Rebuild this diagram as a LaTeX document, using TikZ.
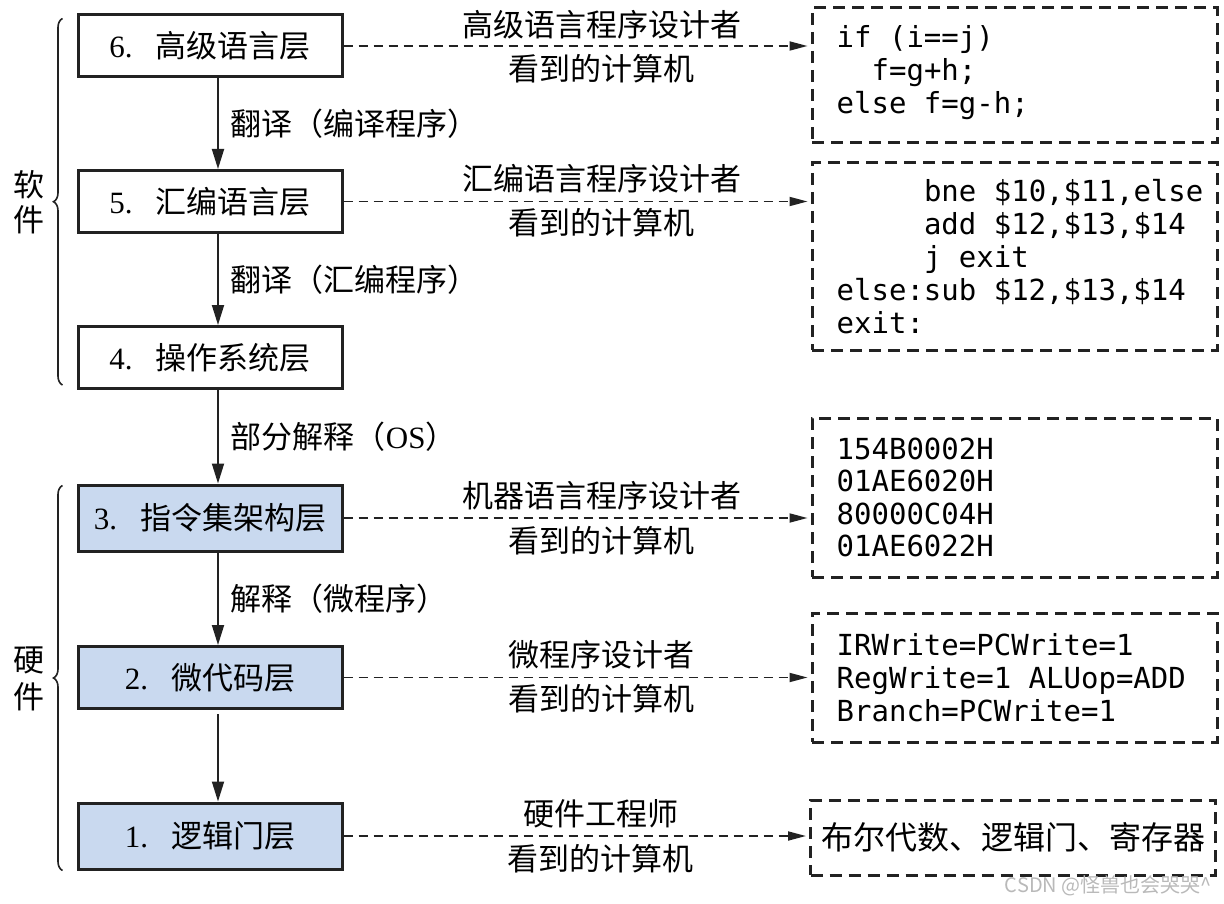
\documentclass[tikz,border=0pt]{standalone}
\usepackage{fontspec}
\setmainfont{Liberation Serif}
\newfontfamily\cjk{Noto Sans CJK SC}
\newfontfamily\codefont{DejaVu Sans Mono}
\usetikzlibrary{arrows.meta,decorations.pathreplacing,calc}
\definecolor{hwblue}{HTML}{C9D9EF}
\definecolor{ink}{HTML}{222222}
\begin{document}
\begin{tikzpicture}[x=1pt,y=-1pt,
  layer/.style={draw=ink, line width=3pt, minimum width=264pt, minimum height=62pt, inner sep=0pt, font=\fontsize{31}{36}\selectfont},
  hw/.style={layer, fill=hwblue},
  codebox/.style={draw=ink, line width=3pt, dash pattern=on 12pt off 7pt, minimum width=405pt, inner sep=0pt},
  code/.style={font=\codefont\fontsize{29}{33}\selectfont, align=left, inner sep=0pt, anchor=west},
  varrow/.style={draw=ink, line width=1.8pt, -{Triangle[length=20pt,width=12pt]}},
  darrow/.style={draw=ink, line width=1.8pt, dash pattern=on 9pt off 6pt, shorten >=3pt, -{Triangle[length=18pt,width=9pt]}},
  lbl/.style={font=\cjk\fontsize{31}{36}\selectfont, inner sep=0pt},
  bracestyle/.style={draw=ink, line width=1.6pt, decorate, decoration={brace, amplitude=9pt}},
]
\useasboundingbox (0,0) rectangle (1224,904);

% left layer boxes
\node[layer] (b6) at (210,46) {6.\hspace{0.75em}{\cjk 高级语言层}};
\node[layer] (b5) at (210,201.5) {5.\hspace{0.75em}{\cjk 汇编语言层}};
\node[layer] (b4) at (210,357.5) {4.\hspace{0.75em}{\cjk 操作系统层}};
\node[hw, minimum height=66pt] (b3) at (210,518) {3.\hspace{0.75em}{\cjk 指令集架构层}};
\node[hw] (b2) at (210,677.5) {2.\hspace{0.75em}{\cjk 微代码层}};
\node[hw, minimum height=66pt] (b1) at (210,836) {1.\hspace{0.75em}{\cjk 逻辑门层}};

% vertical arrows
\draw[varrow] ([xshift=8pt]b6.south) -- ([xshift=8pt]b5.north)
  node[lbl, midway, anchor=west, xshift=12pt] {翻译（编译程序）};
\draw[varrow] ([xshift=8pt]b5.south) -- ([xshift=8pt]b4.north)
  node[lbl, midway, anchor=west, xshift=12pt] {翻译（汇编程序）};
\draw[varrow] ([xshift=8pt]b4.south) -- ([xshift=8pt]b3.north)
  node[lbl, midway, anchor=west, xshift=12pt] {部分解释（{\rmfamily OS}）};
\draw[varrow] ([xshift=8pt]b3.south) -- ([xshift=8pt]b2.north)
  node[lbl, midway, anchor=west, xshift=12pt] {解释（微程序）};
\draw[varrow] ([xshift=8pt,yshift=-4pt]b2.south) -- ([xshift=8pt]b1.north);

% right dashed boxes
\node[codebox, minimum height=135pt] (rA) at (1014.5,75.5) {};
\node[code] (cA) at ([xshift=26pt,yshift=3pt]rA.west) {if (i==j)\\\phantom{if}f=g+h;\\else f=g-h;};
\node[codebox, minimum height=187pt] (rB) at (1014.5,256.5) {};
\node[code] (cB) at ([xshift=26pt]rB.west) {\phantom{else:}bne \$10,\$11,else\\\phantom{else:}add \$12,\$13,\$14\\\phantom{else:}j exit\\else:sub \$12,\$13,\$14\\exit:};
\node[codebox, minimum height=159pt] (rC) at (1014.5,497.5) {};
\node[code, font=\codefont\fontsize{29}{32.5}\selectfont] (cC) at ([xshift=26pt]rC.west) {154B0002H\\01AE6020H\\80000C04H\\01AE6022H};
\node[codebox, minimum height=129pt] (rD) at (1014.5,677.5) {};
\node[code] (cD) at ([xshift=26pt]rD.west) {IRWrite=PCWrite=1\\RegWrite=1 ALUop=ADD\\Branch=PCWrite=1};
\node[codebox, minimum height=75pt, font=\cjk\fontsize{32}{36}\selectfont] (rE) at (1013,837.5) {布尔代数、逻辑门、寄存器};

% dashed arrows
\draw[darrow] (b6.east) -- (b6.east -| rA.west)
  node[lbl, pos=0.553, yshift=21pt] {高级语言程序设计者}
  node[lbl, pos=0.553, yshift=-23pt] {看到的计算机};
\draw[darrow] (b5.east) -- (b5.east -| rB.west)
  node[lbl, pos=0.553, yshift=23pt] {汇编语言程序设计者}
  node[lbl, pos=0.553, yshift=-21pt] {看到的计算机};
\draw[darrow] (b3.east) -- (b3.east -| rC.west)
  node[lbl, pos=0.553, yshift=22pt] {机器语言程序设计者}
  node[lbl, pos=0.553, yshift=-23pt] {看到的计算机};
\draw[darrow] (b2.east) -- (b2.east -| rD.west)
  node[lbl, pos=0.553, yshift=23pt] {微程序设计者}
  node[lbl, pos=0.553, yshift=-21pt] {看到的计算机};
\draw[darrow] (b1.east) -- (b1.east -| rE.west)
  node[lbl, pos=0.553, yshift=22pt] {硬件工程师}
  node[lbl, pos=0.553, yshift=-23pt] {看到的计算机};

% braces
\coordinate (swtop) at ([xshift=-14pt,yshift=-5pt]b6.north west);
\coordinate (swbot) at ([xshift=-14pt,yshift=5pt]b4.south west);
\draw[bracestyle] (swbot) -- (swtop);
\coordinate (hwtop) at ([xshift=-14pt,yshift=-2pt]b3.north west);
\coordinate (hwbot) at ([xshift=-14pt]b1.south west);
\draw[bracestyle] (hwbot) -- (hwtop);
\node[lbl, align=center, font=\cjk\fontsize{31}{35}\selectfont] (sw) at (29,202) {软\\件};
\node[lbl, align=center, font=\cjk\fontsize{31}{37}\selectfont] (hwl) at (29,679) {硬\\件};

% watermark
\node[font=\cjk\fontsize{20}{22}\selectfont, text=gray!55, anchor=east, inner sep=0pt] (wm) at (1212,886) {CSDN @怪兽也会哭哭\textasciicircum};
\end{tikzpicture}
\end{document}
